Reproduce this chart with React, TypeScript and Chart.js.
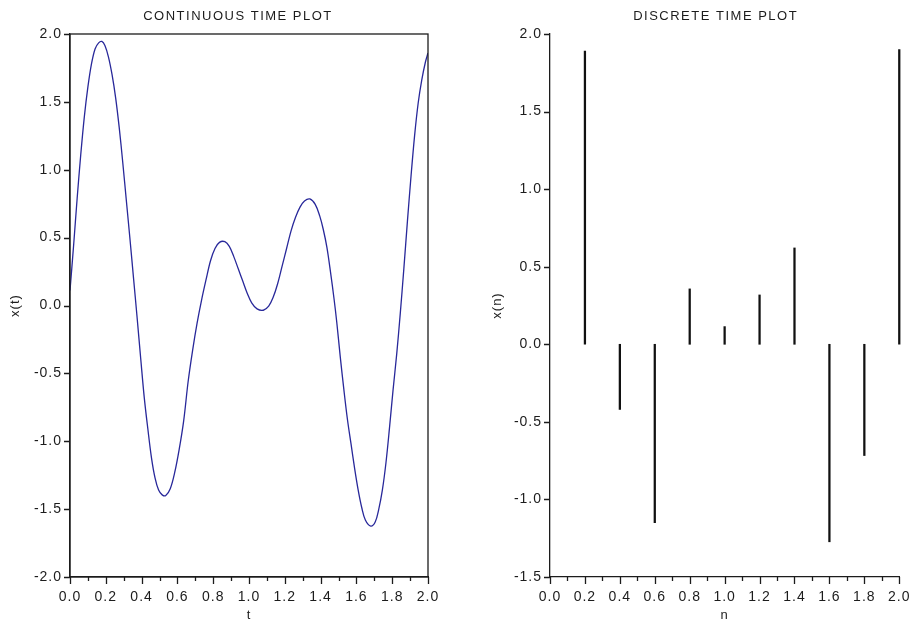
import React, { useEffect, useRef } from "react";
import { Chart, registerables } from "chart.js";

Chart.register(...registerables);

// ---- Continuous time plot ----
const tValues = [
  0, 0.02, 0.04, 0.06, 0.08, 0.1, 0.12, 0.14, 0.16, 0.178, 0.195, 0.215, 0.235, 0.255, 0.275,
  0.295, 0.315, 0.335, 0.355, 0.375, 0.395, 0.415, 0.435, 0.455, 0.475, 0.495, 0.515, 0.535,
  0.56, 0.585, 0.61, 0.635, 0.66, 0.685, 0.71, 0.735, 0.76, 0.785, 0.81, 0.835, 0.865, 0.89,
  0.915, 0.94, 0.965, 0.99, 1.015, 1.045, 1.08, 1.11, 1.135, 1.16, 1.185, 1.21, 1.235, 1.26,
  1.285, 1.31, 1.34, 1.37, 1.395, 1.415, 1.435, 1.455, 1.475, 1.49, 1.51, 1.53, 1.55, 1.57,
  1.59, 1.61, 1.63, 1.65, 1.68, 1.705, 1.725, 1.745, 1.765, 1.785, 1.805, 1.825, 1.845, 1.865,
  1.885, 1.905, 1.925, 1.945, 1.965, 1.985, 2.0,
];
const xtValues = [
  0.11, 0.44, 0.79, 1.11, 1.39, 1.61, 1.78, 1.89, 1.935, 1.945, 1.915, 1.83, 1.7, 1.53, 1.31,
  1.05, 0.77, 0.49, 0.2, -0.09, -0.39, -0.68, -0.91, -1.12, -1.27, -1.36, -1.395, -1.4,
  -1.35, -1.23, -1.06, -0.85, -0.56, -0.33, -0.13, 0.04, 0.19, 0.33, 0.42, 0.465, 0.47, 0.435,
  0.36, 0.27, 0.18, 0.09, 0.02, -0.025, -0.035, -0.005, 0.06, 0.16, 0.29, 0.42, 0.55, 0.65,
  0.725, 0.77, 0.785, 0.745, 0.66, 0.56, 0.43, 0.25, 0.05, -0.12, -0.38, -0.62, -0.84, -1.02,
  -1.2, -1.36, -1.49, -1.58, -1.625, -1.595, -1.5, -1.36, -1.16, -0.9, -0.62, -0.36, -0.06, 0.27,
  0.62, 0.95, 1.25, 1.49, 1.66, 1.79, 1.86,
];

// ---- Discrete time plot ----
const nValues = [0.2, 0.4, 0.6, 0.8, 1.0, 1.2, 1.4, 1.6, 1.8, 2.0];
const xnValues = [1.89, -0.42, -1.15, 0.357, 0.114, 0.318, 0.621, -1.273, -0.717, 1.9];

// ---- Axis settings ----
const xRange = [0, 2];
const xLabelStep = 0.2;
const xMinorStep = 0.1;
const leftYRange = [-2, 2];
const rightYRange = [-1.5, 2];
const yStep = 0.5;

const FONT = "'Liberation Sans', Arial, Helvetica, sans-serif";
const INK = "#1c1c1c";

function decorPlugin(title: string, frame: boolean, titleShift: number) {
  return {
    id: "decor",
    beforeDraw(chart: any) {
      (chart.ctx as any).letterSpacing = "1px";
    },
    afterDraw(chart: any) {
      const { ctx, chartArea: a, scales } = chart;
      const xs = scales.x;
      const ys = scales.y;
      ctx.save();
      ctx.strokeStyle = INK;
      ctx.lineWidth = 1.3;
      ctx.beginPath();
      const nSteps = Math.round((xs.max - xs.min) / xMinorStep);
      for (let i = 0; i <= nSteps; i++) {
        const v = xs.min + i * xMinorStep;
        const px = Math.round(xs.getPixelForValue(v)) + 0.5;
        const len = i % 2 === 0 ? 7 : 4;
        ctx.moveTo(px, a.bottom);
        ctx.lineTo(px, a.bottom + len);
      }
      for (const t of ys.ticks) {
        const py = Math.round(ys.getPixelForValue(t.value)) + 0.5;
        ctx.moveTo(a.left - 6, py);
        ctx.lineTo(a.left, py);
      }
      ctx.stroke();
      if (frame) {
        ctx.strokeRect(a.left, a.top, a.right - a.left, a.bottom - a.top);
      }
      (ctx as any).letterSpacing = "1.5px";
      ctx.font = `13px ${FONT}`;
      ctx.fillStyle = INK;
      ctx.textAlign = "center";
      ctx.textBaseline = "middle";
      ctx.fillText(title, (a.left + a.right) / 2 + titleShift, 16);
      ctx.restore();
    },
  };
}

function makeScales(yRange: number[], yWidth: number, xTitle: string, yTitle: string, yTitlePad: number) {
  return {
    x: {
      type: "linear",
      min: xRange[0],
      max: xRange[1],
      offset: false,
      afterFit: (s: any) => {
        s.height = 47;
      },
      grid: { display: false, drawTicks: false },
      border: { display: true, color: INK, width: 1.3 },
      ticks: {
        stepSize: xLabelStep,
        autoSkip: false,
        maxRotation: 0,
        padding: 12,
        color: INK,
        font: { family: FONT, size: 14 },
        callback: (v: any) => Number(v).toFixed(1),
      },
      title: {
        display: true,
        text: xTitle,
        color: INK,
        font: { family: FONT, size: 13 },
        padding: { top: 0, bottom: 1 },
      },
    },
    y: {
      type: "linear",
      min: yRange[0],
      max: yRange[1],
      afterFit: (s: any) => {
        s.width = yWidth;
      },
      grid: { display: false, drawTicks: false },
      border: { display: true, color: INK, width: 1.3 },
      ticks: {
        stepSize: yStep,
        padding: 8,
        color: INK,
        font: { family: FONT, size: 14 },
        callback: (v: any) => Number(v).toFixed(1),
      },
      title: {
        display: true,
        text: yTitle,
        color: INK,
        font: { family: FONT, size: 13 },
        padding: { top: yTitlePad, bottom: 0 },
      },
    },
  };
}

function ChartCanvas({ config, left, width }: { config: any; left: number; width: number }) {
  const ref = useRef<HTMLCanvasElement | null>(null);
  useEffect(() => {
    if (!ref.current) return;
    const chart = new Chart(ref.current, config);
    return () => chart.destroy();
  }, []);
  return (
    <canvas
      ref={ref}
      width={width}
      height={624}
      style={{ position: "absolute", left, top: 0, width, height: 624 }}
    />
  );
}

export default function App() {
  const leftConfig = {
    type: "line",
    data: {
      datasets: [
        {
          label: "x(t)",
          data: tValues.map((t, i) => ({ x: t, y: xtValues[i] })),
          borderColor: "#28289a",
          borderWidth: 1.3,
          pointRadius: 0,
          tension: 0.35,
          fill: false,
        },
      ],
    },
    options: {
      responsive: false,
      animation: false,
      devicePixelRatio: 1,
      layout: { padding: { left: 0, right: 32, top: 34, bottom: 0 } },
      plugins: { legend: { display: false }, tooltip: { enabled: false }, title: { display: false } },
      scales: makeScales(leftYRange, 70, "t", "x(t)", 8),
    },
    plugins: [decorPlugin("CONTINUOUS TIME PLOT", true, -11)],
  };

  const rightConfig = {
    type: "bar",
    data: {
      datasets: [
        {
          label: "x(n)",
          data: nValues.map((n, i) => ({ x: n, y: xnValues[i] })),
          backgroundColor: "#111111",
          borderWidth: 0,
          barThickness: 1.6,
          clip: false,
        },
      ],
    },
    options: {
      responsive: false,
      animation: false,
      devicePixelRatio: 1,
      layout: { padding: { left: 0, right: 12, top: 34, bottom: 0 } },
      plugins: { legend: { display: false }, tooltip: { enabled: false }, title: { display: false } },
      scales: makeScales(rightYRange, 90, "n", "x(n)", 30),
    },
    plugins: [decorPlugin("DISCRETE TIME PLOT", false, -9)],
  };

  return (
    <div style={{ position: "fixed", left: 0, top: 0, width: 921, height: 624, background: "#fff" }}>
      <ChartCanvas config={leftConfig} left={0} width={460} />
      <ChartCanvas config={rightConfig} left={460} width={461} />
    </div>
  );
}
